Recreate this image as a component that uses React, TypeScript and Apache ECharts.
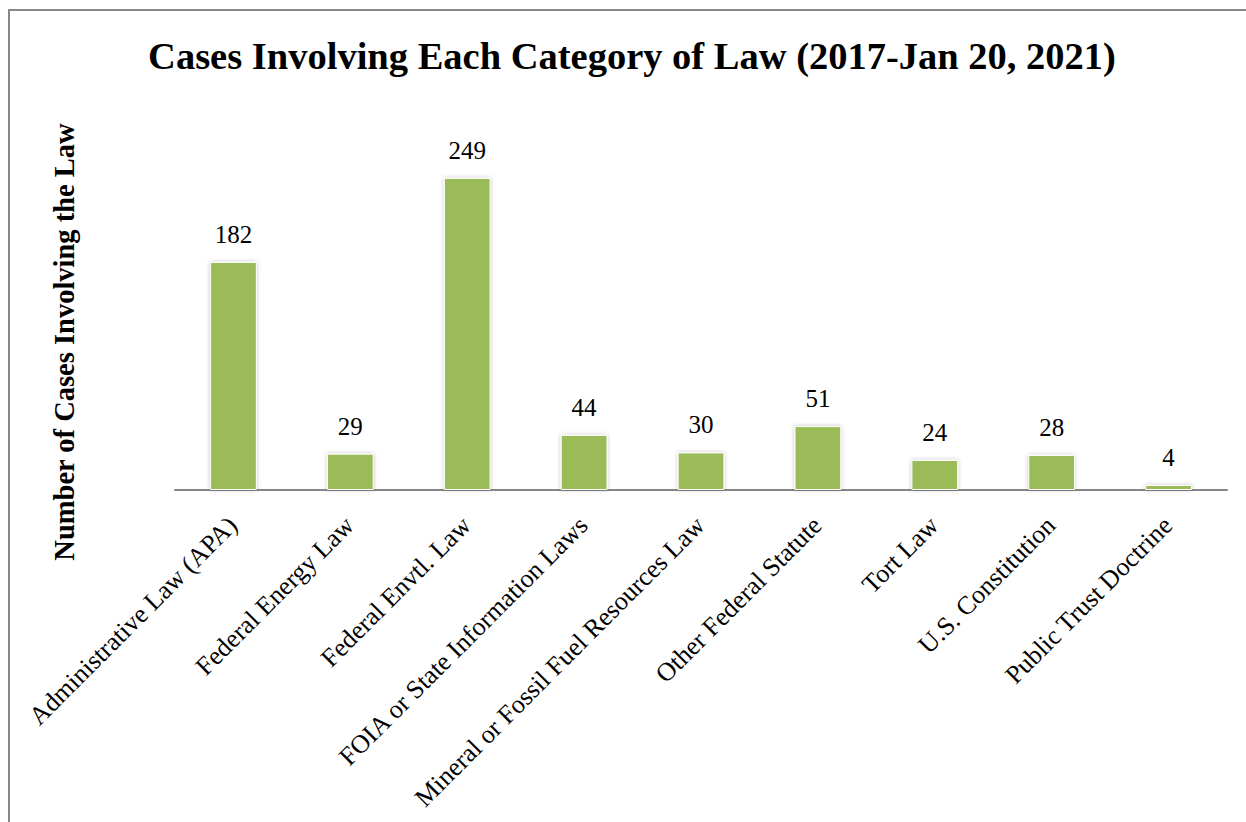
import React, { useEffect, useRef } from "react";
import * as echarts from "echarts";

const categories = [
  "Administrative Law (APA)",
  "Federal Energy Law",
  "Federal Envtl. Law",
  "FOIA or State Information Laws",
  "Mineral or Fossil Fuel Resources Law",
  "Other Federal Statute",
  "Tort Law",
  "U.S. Constitution",
  "Public Trust Doctrine",
];
const caseCounts = [182, 29, 249, 44, 30, 51, 24, 28, 4];
const chartTitle = "Cases Involving Each Category of Law (2017-Jan 20, 2021)";
const yAxisTitle = "Number of Cases Involving the Law";

const SERIF = "'Liberation Serif', 'Times New Roman', serif";

export default function App() {
  const ref = useRef<HTMLDivElement>(null);
  useEffect(() => {
    if (!ref.current) return;
    const chart = echarts.init(ref.current, undefined, { renderer: "svg" });
    chart.setOption({
      animation: false,
      backgroundColor: "#ffffff",
      graphic: [
        {
          type: "rect",
          shape: { x: 9, y: 10, width: 1400, height: 1000 },
          style: { fill: "none", stroke: "#878787", lineWidth: 2 },
          silent: true,
        },
        {
          type: "text",
          x: 632,
          y: 56,
          style: {
            text: chartTitle,
            font: `bold 38.5px ${SERIF}`,
            fill: "#000",
            textAlign: "center",
            textVerticalAlign: "middle",
          },
        },
        {
          type: "text",
          x: 64,
          y: 342,
          rotation: Math.PI / 2,
          style: {
            text: yAxisTitle,
            font: `bold 28.5px ${SERIF}`,
            fill: "#000",
            textAlign: "center",
            textVerticalAlign: "middle",
          },
        },
      ],
      grid: { left: 175, right: 19, top: 114, bottom: 332, containLabel: false },
      xAxis: {
        type: "category",
        data: categories,
        axisLine: { lineStyle: { color: "#868686", width: 2 } },
        axisTick: { show: false },
        axisLabel: {
          rotate: 45,
          interval: 0,
          margin: 12,
          align: "right",
          verticalAlign: "top",
          padding: [0, 14, 0, 0],
          color: "#000",
          fontFamily: SERIF,
          fontSize: 26,
        },
      },
      yAxis: {
        type: "value",
        min: 0,
        max: 300,
        show: false,
        splitLine: { show: false },
      },
      series: [
        {
          type: "bar",
          data: caseCounts,
          barWidth: "40%",
          itemStyle: {
            color: "#9BBB59",
            borderColor: "#ffffff",
            borderWidth: 1,
            shadowBlur: 4,
            shadowColor: "rgba(0,0,0,0.25)",
          },
          label: {
            show: true,
            position: "top",
            distance: 15,
            color: "#000",
            fontFamily: SERIF,
            fontSize: 25,
          },
        },
      ],
    });
    return () => chart.dispose();
  }, []);
  return (
    <div
      ref={ref}
      style={{ position: "fixed", left: 0, top: 0, width: 1246, height: 822 }}
    />
  );
}
